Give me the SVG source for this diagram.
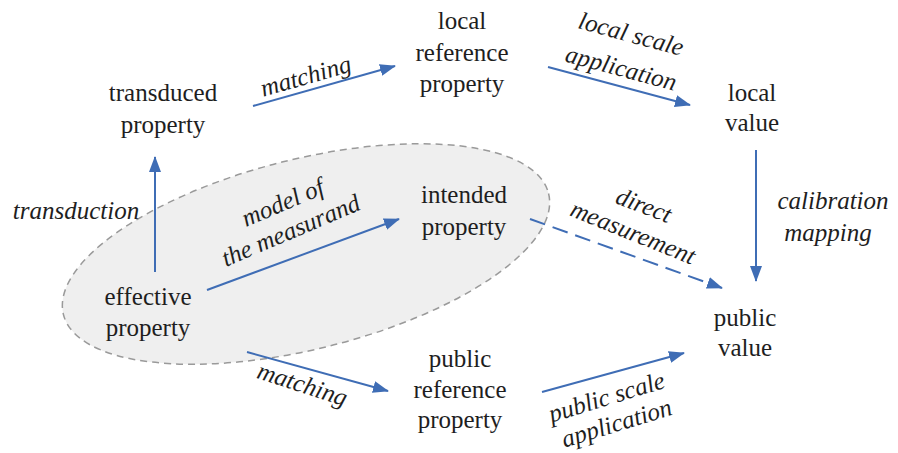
<svg xmlns="http://www.w3.org/2000/svg" width="898" height="453" viewBox="0 0 898 453">
<style>
.n{font-size:25px;fill:#1e1e1e;text-anchor:middle}
.l{font-size:25px;font-style:italic;fill:#1e1e1e;text-anchor:middle}
.c{stroke:#3f6db5;stroke-width:2;fill:none;marker-end:url(#ah)}
.d{stroke-dasharray:16 8}
</style>
<defs>
<marker id="ah" viewBox="0 0 16 12" refX="15" refY="6" markerWidth="16" markerHeight="12" markerUnits="userSpaceOnUse" orient="auto">
<path d="M0,0 L16,6 L0,12 Z" fill="#3f6db5"/>
</marker>
</defs>
<rect width="898" height="453" fill="#ffffff"/>
<ellipse id="scope" cx="306" cy="254" rx="250" ry="95" transform="rotate(-14 306 254)" fill="#efefef" stroke="#9a9a9a" stroke-width="1.5" stroke-dasharray="7 5"/>
<g font-family="Liberation Serif, Tinos, Times New Roman, serif">
<g id="connectors">
<line class="c" x1="155" y1="272" x2="155" y2="157"/>
<line class="c" x1="253" y1="106" x2="395" y2="66"/>
<line class="c" x1="548" y1="67" x2="690" y2="105"/>
<line class="c" x1="756" y1="150" x2="756" y2="281"/>
<line class="c" x1="207" y1="290" x2="399" y2="219"/>
<line class="c d" x1="530" y1="219" x2="722" y2="288"/>
<line class="c" x1="247" y1="352" x2="388" y2="391"/>
<line class="c" x1="542" y1="392" x2="684" y2="353"/>
<text class="l" transform="translate(308 84) rotate(-16)">matching</text>
<text class="l" transform="translate(629 42) rotate(15)">local scale</text>
<text class="l" transform="translate(619 76) rotate(15)">application</text>
<text class="l" x="76" y="219">transduction</text>
<text class="l" transform="translate(286 210) rotate(-23)">model of</text>
<text class="l" transform="translate(294 238) rotate(-23)">the measurand</text>
<text class="l" transform="translate(641 213) rotate(21)">direct</text>
<text class="l" transform="translate(630 240) rotate(22)">measurement</text>
<text class="l" x="833" y="209">calibration</text>
<text class="l" x="828" y="241">mapping</text>
<text class="l" transform="translate(300 392) rotate(18)">matching</text>
<text class="l" transform="translate(609 405) rotate(-17)">public scale</text>
<text class="l" transform="translate(619 431) rotate(-17)">application</text>
</g>
<g id="transduced"><text class="n" x="163" y="101">transduced</text><text class="n" x="163" y="133">property</text></g>
<g id="localref"><text class="n" x="462" y="29">local</text><text class="n" x="462" y="61">reference</text><text class="n" x="462" y="92">property</text></g>
<g id="localvalue"><text class="n" x="752" y="101">local</text><text class="n" x="752" y="131">value</text></g>
<g id="intended"><text class="n" x="464" y="203">intended</text><text class="n" x="464" y="235">property</text></g>
<g id="effective"><text class="n" x="148" y="305">effective</text><text class="n" x="148" y="336">property</text></g>
<g id="publicvalue"><text class="n" x="745" y="326">public</text><text class="n" x="745" y="356">value</text></g>
<g id="publicref"><text class="n" x="460" y="367">public</text><text class="n" x="460" y="398">reference</text><text class="n" x="460" y="428">property</text></g>
</g>
</svg>
